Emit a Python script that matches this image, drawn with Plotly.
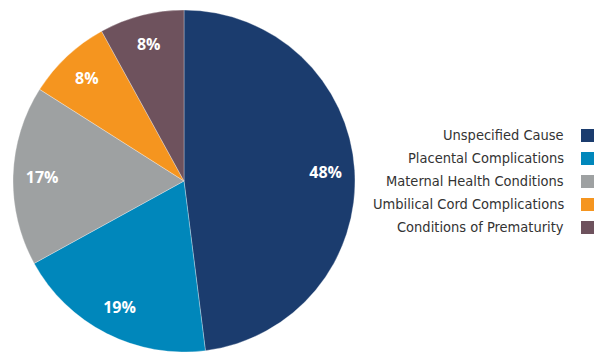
import plotly.graph_objects as go

categories = ["Unspecified Cause", "Placental Complications", "Maternal Health Conditions",
              "Umbilical Cord Complications", "Conditions of Prematurity"]
values = [48, 19, 17, 8, 8]
colors = ["#1b3c6e", "#0087bb", "#9ea1a2", "#f5951f", "#6e525d"]

W, H = 597, 352
dom = dict(x=[12 / W, 356 / W], y=[0, 1 - 10 / H])

fig = go.Figure()
fig.add_trace(go.Pie(
    labels=categories, values=values, sort=False, direction="clockwise", rotation=0,
    marker=dict(colors=colors, line=dict(color="rgba(255,255,255,0.6)", width=0.5)),
    textinfo="none", domain=dom, showlegend=False, hoverinfo="label+percent",
))
# transparent ring overlay: carries the percentage labels near the rim
fig.add_trace(go.Pie(
    labels=categories, values=values, sort=False, direction="clockwise", rotation=0, hole=0.66,
    marker=dict(colors=["rgba(0,0,0,0)"] * len(values), line=dict(width=0)),
    texttemplate="%{percent:.0%}", textposition="inside", insidetextorientation="horizontal",
    textfont=dict(family="Open Sans", size=16, color="white", weight="bold"),
    domain=dom, showlegend=False, hoverinfo="skip",
))

annotations = []
row0, step = 135, 23
for i, (cat, col) in enumerate(zip(categories, colors)):
    yc = row0 + i * step
    annotations.append(dict(
        x=566 / W, y=1 - yc / H, xref="paper", yref="paper", xanchor="right", yanchor="middle",
        text=cat, showarrow=False,
        font=dict(family="DejaVu Sans Condensed, Roboto, sans-serif", size=14.5, color="#333333"),
    ))
    annotations.append(dict(
        x=581 / W, y=1 - yc / H, xref="paper", yref="paper", xanchor="left", yanchor="middle",
        text="", showarrow=False, width=13, height=13, bgcolor=col, borderpad=0, borderwidth=0,
    ))

fig.update_layout(
    width=W, height=H, margin=dict(l=0, r=0, t=0, b=0),
    paper_bgcolor="white", plot_bgcolor="white",
    annotations=annotations,
)
fig.write_html("out.html", config={"displayModeBar": False})

with open("out.html", encoding="utf-8") as f:
    html = f.read()
html = html.replace("<body>", '<body style="margin:0;padding:0;overflow:hidden">', 1)
with open("out.html", "w", encoding="utf-8") as f:
    f.write(html)
